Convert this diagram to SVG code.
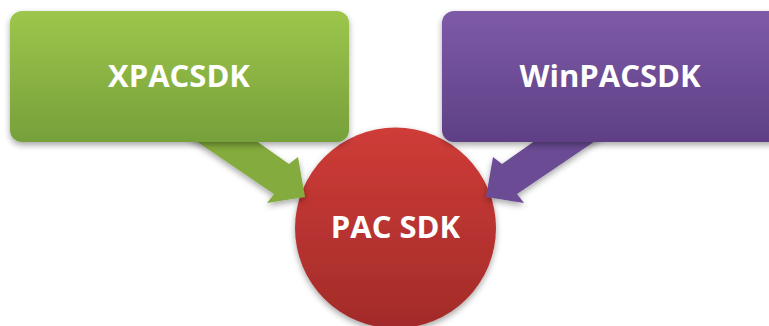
<svg xmlns="http://www.w3.org/2000/svg" width="769" height="326" viewBox="0 0 769 326">
<defs>
<linearGradient id="gGreen" x1="0" y1="0" x2="0" y2="1"><stop offset="0" stop-color="#9dc64c"/><stop offset="1" stop-color="#76a03a"/></linearGradient>
<linearGradient id="gPurple" x1="0" y1="0" x2="0" y2="1"><stop offset="0" stop-color="#7e5aa8"/><stop offset="1" stop-color="#5e4085"/></linearGradient>
<linearGradient id="gRed" x1="0" y1="0" x2="0" y2="1"><stop offset="0" stop-color="#cf3c38"/><stop offset="1" stop-color="#a22b29"/></linearGradient>
<filter id="sh" x="-20%" y="-20%" width="140%" height="150%"><feDropShadow dx="0" dy="3" stdDeviation="3" flood-color="#000" flood-opacity="0.35"/></filter>
</defs>
<style>
.lbl{font-family:"Open Sans","Liberation Sans",sans-serif;font-weight:bold;font-size:31px;fill:#fff;text-anchor:middle}
</style>
<g id="pac-sdk">
<circle cx="395.5" cy="228" r="100.5" fill="url(#gRed)" filter="url(#sh)"/>
<text class="lbl" x="395.5" y="238">PAC SDK</text>
</g>
<g id="connectors">
<polygon points="184,133 245,133 289,164 298,157 305,197 267,203 274,194" fill="#84ab3e" filter="url(#sh)"/>
<polygon points="607,133 546,133 502,164 493,157 486,197 524,203 517,194" fill="#6b4b94" filter="url(#sh)"/>
</g>
<g id="xpacsdk">
<rect x="10" y="11" width="339" height="131" rx="12" fill="url(#gGreen)" filter="url(#sh)"/>
<text class="lbl" x="179" y="87">XPACSDK</text>
</g>
<g id="winpacsdk">
<rect x="442" y="11" width="339" height="131" rx="12" fill="url(#gPurple)" filter="url(#sh)"/>
<text class="lbl" x="610" y="87">WinPACSDK</text>
</g>
</svg>
